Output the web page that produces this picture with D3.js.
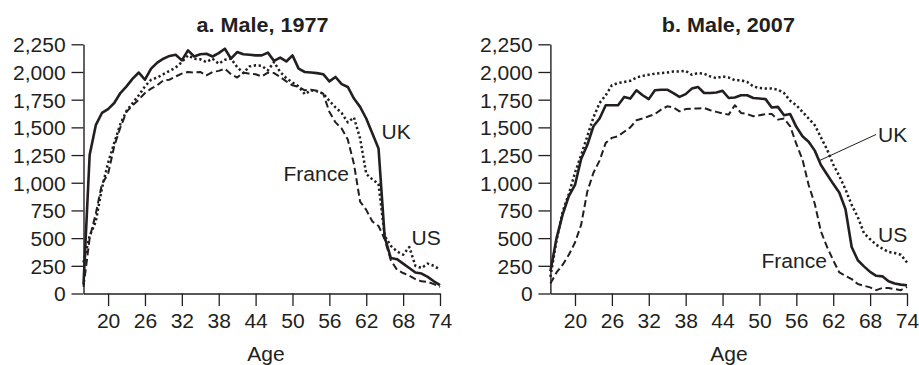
<!DOCTYPE html>
<html>
<head>
<meta charset="utf-8">
<script src="https://cdn.jsdelivr.net/npm/d3@7"></script>
<style>
  html, body { margin: 0; padding: 0; background: #fff; }
  svg { display: block; }
  text { font-family: "Liberation Sans", Arial, Helvetica, sans-serif; fill: #231f20; }
</style>
</head>
<body>
<svg id="chart" width="919" height="365"></svg>
<script>
// ---------- data ----------
const ages = [16,17,18,19,20,21,22,23,24,25,26,27,28,29,30,31,32,33,34,35,36,37,38,39,40,
  41,42,43,44,45,46,47,48,49,50,51,52,53,54,55,56,57,58,59,60,61,62,63,64,65,66,67,68,69,70,
  71,72,73,74];

const uk1977 = [80,1250,1520,1630,1665,1720,1810,1870,1940,1995,1930,2030,2085,2120,2145,
  2155,2105,2195,2140,2160,2165,2140,2170,2210,2120,2180,2160,2155,2150,2150,2175,2100,2130,
  2095,2150,2030,2000,1995,1990,1980,1915,1955,1890,1865,1760,1685,1580,1445,1310,510,320,
  310,270,230,190,180,150,110,75];
const france1977 = [60,500,720,990,1080,1330,1500,1640,1700,1750,1810,1850,1880,1925,1930,
  1960,1985,2000,1995,2000,1970,2000,2010,2030,1980,1950,1995,1985,1980,1960,1995,1990,1955,
  1915,1880,1865,1835,1840,1830,1805,1640,1545,1490,1390,1170,830,755,650,610,490,300,215,
  185,160,130,110,105,85,60];
const us1977 = [280,520,650,950,1180,1360,1530,1650,1720,1790,1870,1930,1950,1980,2010,
  2040,2090,2150,2120,2115,2090,2120,2075,2110,2120,2045,1990,2050,2060,2055,2015,2090,2000,
  1945,1905,1870,1800,1835,1825,1805,1740,1680,1630,1545,1590,1400,1080,1030,990,520,430,
  380,350,420,250,230,270,250,215];

const uk2007 = [200,500,715,880,980,1215,1340,1510,1580,1700,1700,1700,1775,1760,1835,
  1790,1755,1835,1840,1840,1810,1775,1800,1850,1865,1810,1810,1815,1830,1765,1770,1790,1790,
  1765,1760,1755,1680,1685,1610,1620,1505,1420,1370,1290,1160,1075,990,910,760,420,300,245,
  195,160,155,110,90,80,75];
const france2007 = [90,190,260,350,460,620,920,1090,1200,1360,1405,1420,1460,1500,1565,
  1580,1600,1620,1660,1690,1680,1645,1665,1670,1670,1675,1655,1640,1625,1615,1700,1630,1620,
  1600,1610,1620,1620,1570,1580,1510,1350,1210,980,810,560,420,300,190,160,130,85,70,55,30,
  50,50,40,30,60];
const us2007 = [150,480,740,900,1090,1250,1420,1590,1720,1790,1880,1900,1910,1920,1950,
  1965,1975,1985,1990,1995,2005,2005,2010,1975,1990,1985,1960,1945,1960,1950,1925,1925,1910,
  1870,1855,1850,1850,1840,1810,1740,1700,1640,1580,1520,1410,1300,1165,1060,940,800,690,545,
  490,440,405,375,365,350,280];

const xTicks = [20,26,32,38,44,50,56,62,68,74];
const yTicks = [0,250,500,750,1000,1250,1500,1750,2000,2250];
const titles = ["a. Male, 1977", "b. Male, 2007"];
const xTitle = "Age";

// ---------- drawing ----------
const svg = d3.select("#chart");
const INK = "#231f20";
const FS = 19.5;       // font size
const SX = 1.08;       // horizontal stretch of the typeface

function label(g, x, y, txt, anchor, opts) {
  opts = opts || {};
  g.append("text")
    .attr("transform", `translate(${x},${y}) scale(${SX},1)`)
    .attr("text-anchor", anchor)
    .style("font-size", (opts.size || FS) + "px")
    .style("font-weight", opts.bold ? "bold" : "normal")
    .text(txt);
}

const styles = {
  UK:     { width: 2.6, dash: null },
  France: { width: 2.0, dash: "7,3.6" },
  US:     { width: 2.5, dash: "2.3,2.6" }
};

function panel(cfg) {
  const x = d3.scaleLinear().domain([16, 74]).range([cfg.x0, cfg.x1]);
  const y = d3.scaleLinear().domain([0, 2250]).range([293.5, 44.3]);
  const g = svg.append("g");

  // y axis
  const ya = g.append("g").attr("transform", `translate(${cfg.x0},0)`)
    .call(d3.axisLeft(y).tickValues(yTicks).tickFormat(d3.format(",")).tickSize(12).tickSizeOuter(0));
  // x axis
  const xa = g.append("g").attr("transform", `translate(0,293.5)`)
    .call(d3.axisBottom(x).tickValues(xTicks).tickFormat(d3.format("d")).tickSize(12.5).tickSizeOuter(0));

  [ya, xa].forEach(a => {
    a.selectAll("path.domain").attr("stroke", INK).attr("stroke-width", 1.4);
    a.selectAll(".tick line").attr("stroke", INK).attr("stroke-width", 1.3);
    a.selectAll(".tick text")
      .style("font-family", '"Liberation Sans", Arial, sans-serif')
      .style("font-size", FS + "px")
      .attr("fill", INK);
  });
  ya.selectAll(".tick text")
    .attr("x", -17.8 / SX).attr("dy", "0.38em")
    .attr("transform", `scale(${SX},1)`);
  xa.selectAll(".tick text")
    .attr("y", 34.5).attr("dy", 0)
    .attr("transform", `scale(${SX},1)`);

  // lines
  const line = d3.line().x((d, i) => x(ages[i])).y(d => y(d)).curve(d3.curveLinear);
  cfg.series.forEach(s => {
    const st = styles[s.name];
    g.append("path")
      .datum(s.values)
      .attr("fill", "none")
      .attr("stroke", INK)
      .attr("stroke-width", st.width)
      .attr("stroke-linejoin", "round")
      .attr("stroke-dasharray", st.dash)
      .attr("d", line);
  });

  // titles
  label(g, cfg.titleX, 31.7, cfg.title, "middle", { bold: true, size: 20 });
  label(g, cfg.ageX, 360.5, xTitle, "middle");

  // series labels
  cfg.labels.forEach(l => label(g, l.x, l.y, l.text, l.anchor || "start"));
  if (cfg.leader) {
    g.append("line")
      .attr("x1", cfg.leader[0]).attr("y1", cfg.leader[1])
      .attr("x2", cfg.leader[2]).attr("y2", cfg.leader[3])
      .attr("stroke", INK).attr("stroke-width", 1);
  }
}

panel({
  x0: 83.5, x1: 440, title: titles[0], titleX: 262.5, ageX: 266,
  series: [
    { name: "US", values: us1977 },
    { name: "France", values: france1977 },
    { name: "UK", values: uk1977 }
  ],
  labels: [
    { text: "UK", x: 381.5, y: 139 },
    { text: "France", x: 349, y: 180.5, anchor: "end" },
    { text: "US", x: 411.5, y: 245 }
  ]
});

panel({
  x0: 550.4, x1: 907, title: titles[1], titleX: 728.3, ageX: 729,
  series: [
    { name: "US", values: us2007 },
    { name: "France", values: france2007 },
    { name: "UK", values: uk2007 }
  ],
  labels: [
    { text: "UK", x: 878, y: 141.5 },
    { text: "France", x: 827, y: 268, anchor: "end" },
    { text: "US", x: 878, y: 241.5 }
  ],
  leader: [876, 134.5, 818.5, 161]
});
</script>
</body>
</html>
